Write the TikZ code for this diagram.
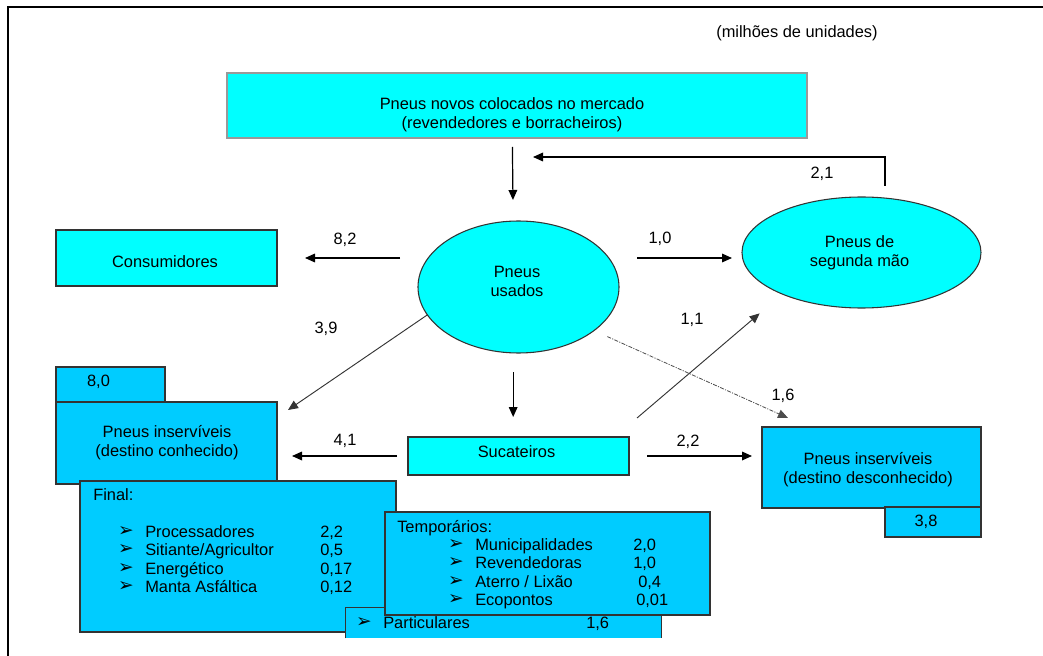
\documentclass[tikz,border=0pt]{standalone}
\usepackage{fontspec}
\setmainfont{Liberation Sans}
\newfontfamily\dingfont{DejaVu Sans}
\usetikzlibrary{arrows.meta, shapes.geometric}
\definecolor{cyanfill}{RGB}{0,255,255}
\definecolor{bluefill}{RGB}{0,204,255}
\definecolor{edgegray}{RGB}{51,51,51}
\newcommand{\seta}{{\dingfont\fontsize{14}{14}\selectfont\char"27A2}}

\begin{document}
\begin{tikzpicture}[% styles used in image code
         x = 0.75pt, y = -0.75pt,
      font = \fontsize{12.3}{14.2}\selectfont,
         > = {Triangle[length=7.5pt, width=6.5pt]}, % defined in arrows.meta
  arr/.style = {->, line width=0.9pt},
 cbox/.style = {draw=edgegray, fill=cyanfill, line width=1.1pt,
                inner sep=0pt, outer sep=0pt},
 bbox/.style = {draw=edgegray, fill=bluefill, line width=1.1pt,
                inner sep=0pt, outer sep=0pt},
 oval/.style = {ellipse, draw=edgegray, fill=cyanfill, line width=0.8pt,
                inner sep=0pt, outer sep=0pt},
  txt/.style = {inner sep=0pt, align=center},
 item/.style = {inner sep=0pt, anchor=west, text height=8.8pt, text depth=0pt}
                    ]
	% page and frame
	\clip (0,0) rectangle (1043,656);
	\fill[white] (0,0) rectangle (1043,656);
	\draw[line width=2pt] (8,7) rectangle (1070,690);

	\node[txt] (unid) at (797,33) {(milhões de unidades)};

	% shapes
	\node[cbox, draw=gray!80, minimum width=435pt, minimum height=48.75pt] (novos) at (517,105.5) {};
	\node[oval, minimum width=150.75pt, minimum height=99pt] (usados) at (518.5,287) {};
	\node[oval, minimum width=179.25pt, minimum height=83.25pt] (segunda) at (861.5,252.5) {};
	\node[cbox, minimum width=165.75pt, minimum height=42pt] (cons) at (166.5,258) {};
	\node[cbox, minimum width=165.75pt, minimum height=28.5pt] (sucat) at (518.5,456) {};

	\node[bbox, minimum width=81.75pt, minimum height=26.25pt] (tab80) at (110.5,384.5) {};
	\node[bbox, minimum width=165.75pt, minimum height=61.5pt] (conh) at (166.5,443) {};
	\node[bbox, minimum width=237pt, minimum height=113.25pt] (final) at (238,556.5) {};
	\node[fill=bluefill, inner sep=0pt, minimum width=236.25pt, minimum height=22.5pt] (part) at (503.5,623) {};
	\draw[edgegray, line width=1.1pt] (part.south west) |- (part.north east) -- (part.south east);
	\node[bbox, minimum width=243.75pt, minimum height=77.25pt] (temp) at (547.5,563.5) {};

	\node[bbox, minimum width=164.25pt, minimum height=60.75pt] (desc) at (871.5,467.5) {};
	\node[bbox, minimum width=72pt, minimum height=22.5pt] (tab38) at (933,522) {};

	% texts
	\node[txt] (novos-t) at (512,115) {Pneus novos colocados no mercado\\(revendedores e borracheiros)};
	\node[txt] (usados-t) at (517,281) {Pneus\\usados};
	\node[txt] (segunda-t) at (859.5,253) {Pneus de\\segunda mão};
	\node[txt] (cons-t) at (165,262) {Consumidores};
	\node[txt] (sucat-t) at (516.5,452) {Sucateiros};
	\node[txt] (conh-t) at (167,443) {Pneus inservíveis\\(destino conhecido)};
	\node[txt] (desc-t) at (868,470) {Pneus inservíveis\\(destino desconhecido)};
	\node[txt] (tab80-t) at (98.5,382) {8,0};
	\node[txt] (tab38-t) at (926,522) {3,8};

	% lists
	\node[item] (final-t) at (93,495) {Final:};
	\foreach \y/\name/\val in {532/Processadores/{2,2}, 550/{Sitiante/Agricultor}/{0,5},
	                           569/Energético/{0,17}, 587/{Manta Asfáltica}/{0,12}} {
		\node[txt] (fb\y) at (126,\y) {\seta};
		\node[item] (fn\y) at (145,\y) {\name};
		\node[item] (fv\y) at (320,\y) {\val};
	}
	\node[item] (temp-t) at (397,527) {Temporários:};
	\foreach \y/\name/\x/\val in {545/Municipalidades/633/{2,0}, 563/Revendedoras/633/{1,0},
	                              582/{Aterro / Lixão}/638/{0,4}, 600/Ecopontos/636/{0,01}} {
		\node[txt] (tb\y) at (456,\y) {\seta};
		\node[item] (tn\y) at (475,\y) {\name};
		\node[item] (tv\y) at (\x,\y) {\val};
	}
	\node[txt] (pb) at (364,623) {\seta};
	\node[item] (pn) at (383,623) {Particulares};
	\node[item] (pv) at (586,623) {1,6};

	% flows
	\draw[arr, shorten <=6.75pt, shorten >=15.75pt] ([xshift=-3.5pt]novos.south) -- ([xshift=-4pt]usados.north);
	\draw[arr] ([xshift=17.6pt, yshift=8.25pt]segunda.north) |- ([xshift=12pt, yshift=-14.25pt]novos.south);
	\draw[arr, shorten <=13.5pt, shorten >=21pt] (usados.west |- cons) -- (cons.east);
	\draw[arr, shorten <=13.5pt, shorten >=7.5pt] (usados.east |- cons) -- (segunda.west |- cons);
	\draw[arr, gray!40!black, line width=0.7pt] (usados.197) -- ([xshift=8.25pt, yshift=-6pt]conh.north east);
	\draw[arr, shorten <=14.25pt, shorten >=15pt] ([xshift=-4pt]usados.south) -- ([xshift=-4pt]sucat.north);
	\draw[arr, shorten <=8.25pt, shorten >=11.25pt] (sucat.west) -- (conh.east |- sucat);
	\draw[arr, shorten <=13.5pt, shorten >=7.5pt] (sucat.east) -- (desc.west |- sucat);
	\draw[arr, gray!40!black, line width=0.7pt, shorten >=25pt] ([xshift=6pt, yshift=14.25pt]sucat.north east) -- ([xshift=6pt]segunda.south west);
	\draw[arr, gray!60!black, line width=0.6pt, dash pattern=on 3pt off 1pt on 0.8pt off 1pt, shorten <=11pt]
		(usados.330) -- ([xshift=19.5pt, yshift=6.75pt]desc.north west);

	% flow values
	\node[txt] (v82) at (345,240) {8,2};
	\node[txt] (v10) at (660,239) {1,0};
	\node[txt] (v21) at (822,174) {2,1};
	\node[txt] (v39) at (326,329) {3,9};
	\node[txt] (v11) at (692,320) {1,1};
	\node[txt] (v41) at (345,441) {4,1};
	\node[txt] (v22) at (688,442) {2,2};
	\node[txt] (v16) at (783,396) {1,6};
\end{tikzpicture}
\end{document}
